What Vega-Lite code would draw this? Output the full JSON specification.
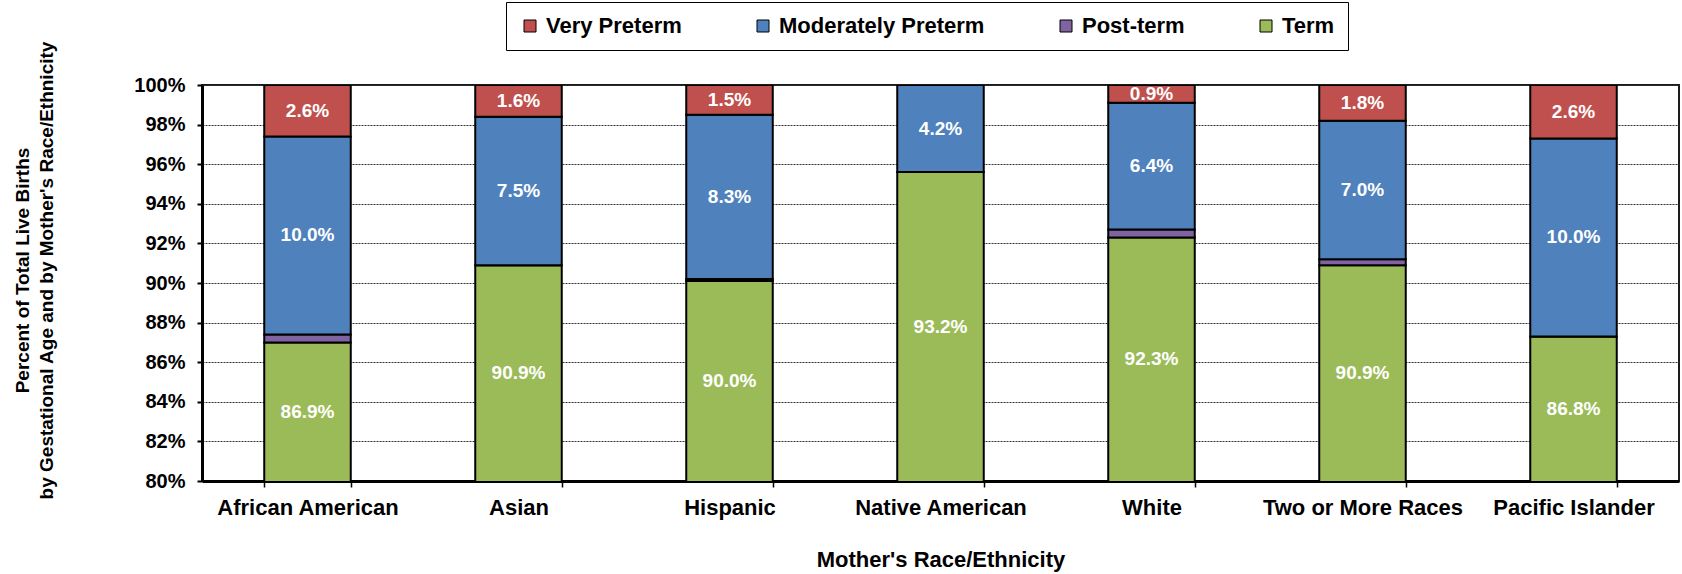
{
  "$schema": "https://vega.github.io/schema/vega-lite/v6.json",
  "width": 1477,
  "height": 396,
  "autosize": {"type": "none"},
  "padding": {"left": 202, "top": 85, "right": 3, "bottom": 93},
  "background": "white",
  "config": {
    "view": {"stroke": "#1a1a1a", "strokeWidth": 2},
    "font": "Liberation Sans"
  },
  "data": {
    "values": [
      {"race": "African American", "stage": "Term", "value": 87.0, "label": "86.9%"},
      {"race": "African American", "stage": "Post-term", "value": 0.4, "label": ""},
      {"race": "African American", "stage": "Moderately Preterm", "value": 10.0, "label": "10.0%"},
      {"race": "African American", "stage": "Very Preterm", "value": 2.6, "label": "2.6%"},
      {"race": "Asian", "stage": "Term", "value": 90.9, "label": "90.9%"},
      {"race": "Asian", "stage": "Post-term", "value": 0.0, "label": ""},
      {"race": "Asian", "stage": "Moderately Preterm", "value": 7.5, "label": "7.5%"},
      {"race": "Asian", "stage": "Very Preterm", "value": 1.6, "label": "1.6%"},
      {"race": "Hispanic", "stage": "Term", "value": 90.1, "label": "90.0%"},
      {"race": "Hispanic", "stage": "Post-term", "value": 0.1, "label": ""},
      {"race": "Hispanic", "stage": "Moderately Preterm", "value": 8.3, "label": "8.3%"},
      {"race": "Hispanic", "stage": "Very Preterm", "value": 1.5, "label": "1.5%"},
      {"race": "Native American", "stage": "Term", "value": 95.6, "label": "93.2%"},
      {"race": "Native American", "stage": "Post-term", "value": 0.0, "label": ""},
      {"race": "Native American", "stage": "Moderately Preterm", "value": 4.4, "label": "4.2%"},
      {"race": "Native American", "stage": "Very Preterm", "value": 0.0, "label": ""},
      {"race": "White", "stage": "Term", "value": 92.3, "label": "92.3%"},
      {"race": "White", "stage": "Post-term", "value": 0.4, "label": ""},
      {"race": "White", "stage": "Moderately Preterm", "value": 6.4, "label": "6.4%"},
      {"race": "White", "stage": "Very Preterm", "value": 0.9, "label": "0.9%"},
      {"race": "Two or More Races", "stage": "Term", "value": 90.9, "label": "90.9%"},
      {"race": "Two or More Races", "stage": "Post-term", "value": 0.3, "label": ""},
      {"race": "Two or More Races", "stage": "Moderately Preterm", "value": 7.0, "label": "7.0%"},
      {"race": "Two or More Races", "stage": "Very Preterm", "value": 1.8, "label": "1.8%"},
      {"race": "Pacific Islander", "stage": "Term", "value": 87.3, "label": "86.8%"},
      {"race": "Pacific Islander", "stage": "Post-term", "value": 0.0, "label": ""},
      {"race": "Pacific Islander", "stage": "Moderately Preterm", "value": 10.0, "label": "10.0%"},
      {"race": "Pacific Islander", "stage": "Very Preterm", "value": 2.7, "label": "2.6%"}
    ]
  },
  "transform": [
    {"calculate": "indexof(['Term','Post-term','Moderately Preterm','Very Preterm'], datum.stage)", "as": "rank"},
    {"stack": "value", "groupby": ["race"], "sort": [{"field": "rank", "order": "ascending"}], "as": ["y0", "y1"]},
    {"calculate": "(max(datum.y0, 80) + min(datum.y1, 100)) / 2", "as": "mid"}
  ],
  "encoding": {
    "x": {
      "field": "race",
      "type": "nominal",
      "sort": ["African American", "Asian", "Hispanic", "Native American", "White", "Two or More Races", "Pacific Islander"],
      "scale": {"paddingInner": 0.59, "paddingOuter": 0.295},
      "axis": {
        "title": "Mother's Race/Ethnicity",
        "titleFontSize": 22,
        "titleFontWeight": "bold",
        "titleColor": "#000",
        "titlePadding": 31,
        "labelFontSize": 22,
        "labelFontWeight": "bold",
        "labelColor": "#000",
        "labelAngle": 0,
        "labelPadding": 10,
        "labelLimit": 0,
        "labelOverlap": false,
        "tickBand": "extent",
        "tickSize": 6,
        "tickColor": "#000",
        "tickWidth": 1.5,
        "domainColor": "#000",
        "domainWidth": 3,
        "grid": false
      }
    }
  },
  "layer": [
    {
      "mark": {"type": "bar", "stroke": "#000", "strokeWidth": 2, "clip": true},
      "encoding": {
        "y": {
          "field": "y0",
          "type": "quantitative",
          "scale": {"domain": [80, 100]},
          "axis": {
            "values": [80, 82, 84, 86, 88, 90, 92, 94, 96, 98, 100],
            "labelExpr": "datum.value + '%'",
            "labelFontSize": 20,
            "labelFontWeight": "bold",
            "labelColor": "#000",
            "labelPadding": 12,
            "labelOverlap": false,
            "tickSize": 5,
            "tickColor": "#000",
            "tickWidth": 2,
            "domainColor": "#000",
            "domainWidth": 3,
            "grid": true,
            "gridColor": "#333",
            "gridDash": [2, 1],
            "gridWidth": 1,
            "title": ["Percent of Total Live Births", "by Gestational Age and by Mother's Race/Ethnicity"],
            "titleFontSize": 19,
            "titleFontWeight": "bold",
            "titleColor": "#000",
            "titlePadding": 77,
            "titleLineHeight": 24,
            "titleY": 185
          }
        },
        "y2": {"field": "y1"},
        "color": {
          "field": "stage",
          "type": "nominal",
          "scale": {
            "domain": ["Very Preterm", "Moderately Preterm", "Post-term", "Term"],
            "range": ["#C0504D", "#4F81BD", "#8064A2", "#9BBB59"]
          },
          "legend": {
            "orient": "none",
            "legendX": 304,
            "legendY": -83,
            "direction": "horizontal",
            "title": null,
            "labelFontSize": 22,
            "labelFontWeight": "bold",
            "labelColor": "#000",
            "labelLimit": 0,
            "symbolType": "square",
            "symbolSize": 144,
            "symbolStrokeColor": "#000",
            "symbolStrokeWidth": 1,
            "symbolOpacity": 1,
            "labelOffset": 5,
            "columnPadding": 70,
            "padding": 13,
            "strokeColor": "#000",
            "fillColor": "white"
          }
        }
      }
    },
    {
      "transform": [{"filter": "datum.label != ''"}],
      "mark": {"type": "text", "color": "white", "fontWeight": "bold", "fontSize": 19, "baseline": "middle", "font": "Liberation Sans"},
      "encoding": {
        "y": {
          "field": "mid",
          "type": "quantitative",
          "scale": {"domain": [80, 100]},
          "axis": {
            "values": [80, 82, 84, 86, 88, 90, 92, 94, 96, 98, 100],
            "labelExpr": "datum.value + '%'",
            "labelFontSize": 20,
            "labelFontWeight": "bold",
            "labelColor": "#000",
            "labelPadding": 12,
            "labelOverlap": false,
            "tickSize": 5,
            "tickColor": "#000",
            "tickWidth": 2,
            "domainColor": "#000",
            "domainWidth": 3,
            "grid": true,
            "gridColor": "#333",
            "gridDash": [2, 1],
            "gridWidth": 1,
            "title": ["Percent of Total Live Births", "by Gestational Age and by Mother's Race/Ethnicity"],
            "titleFontSize": 19,
            "titleFontWeight": "bold",
            "titleColor": "#000",
            "titlePadding": 77,
            "titleLineHeight": 24,
            "titleY": 185
          }
        },
        "text": {"field": "label"}
      }
    }
  ]
}
